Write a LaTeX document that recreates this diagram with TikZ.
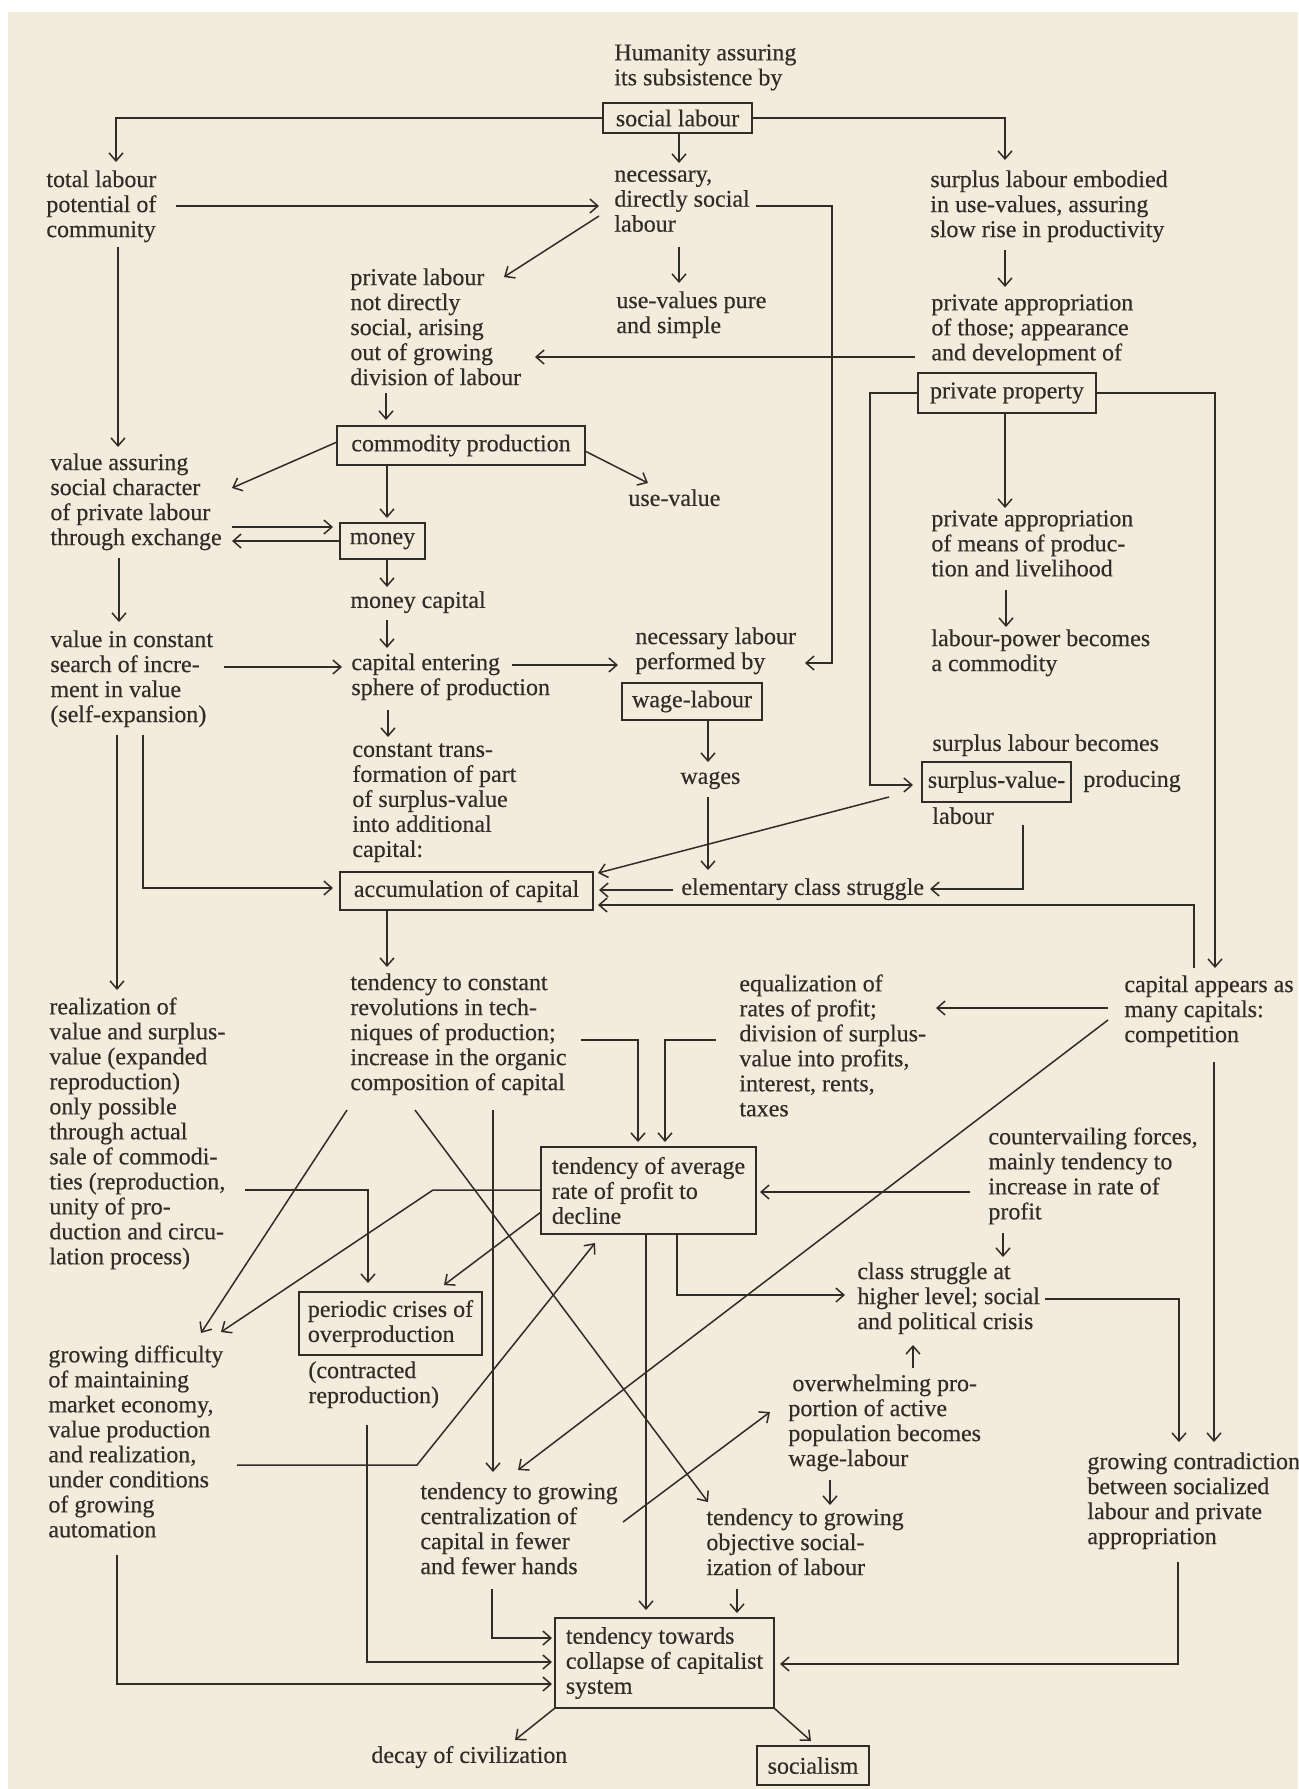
\documentclass[tikz,border=0pt]{standalone}
\usepackage{fontspec}
\setmainfont{Liberation Serif}
\newfontfamily\inkfont{Liberation Serif}[FakeBold=0.35]
\usetikzlibrary{arrows.meta}
\definecolor{ink}{RGB}{48,44,40}
\definecolor{paper}{RGB}{243,236,221}
\begin{document}
\begin{tikzpicture}[x=0.5pt,y=-0.5pt,
  t/.style={anchor=north west, inner sep=0pt, align=left, yshift=6pt, font=\inkfont\fontsize{12}{12.5}\selectfont, text=ink, execute at begin node=\strut},
  bx/.style={draw=ink, line width=0.95pt, inner sep=0pt, align=left, font=\inkfont\fontsize{12}{12.5}\selectfont, text=ink},
  ar/.style={draw=ink, line width=0.75pt, -{Straight Barb[length=4pt,width=7pt]}}]
\useasboundingbox (0,0) rectangle (1298,1789);
\fill[white] (0,0) rectangle (1298,1789);
\fill[paper] (8,12) rectangle (1298,1789);
% nodes
\node[t] (hum) at (614,56) {Humanity assuring\\its subsistence by};
\node[bx, minimum width=74.5pt, minimum height=15pt] (soc) at (677.5,118) {social labour};
\node[t] (total) at (46,182) {total labour\\potential of\\community};
\node[t] (nec) at (614,182) {necessary,\\directly social\\labour};
\node[t] (surp) at (930,182) {surplus labour embodied\\in use-values, assuring\\slow rise in productivity};
\node[t] (privlab) at (350,280) {private labour\\not directly\\social, arising\\out of growing\\division of labour};
\node[t] (usepure) at (616,303) {use-values pure\\and simple};
\node[t] (privapp) at (931,306) {private appropriation\\of those; appearance\\and development of};
\node[bx, minimum width=89pt, minimum height=20pt] (privprop) at (1007,393) {private property};
\node[bx, minimum width=124pt, minimum height=19.5pt] (comm) at (461,445.5) {commodity production};
\node[t] (valass) at (50,465) {value assuring\\social character\\of private labour\\through exchange};
\node[t] (usev) at (628,500) {use-value};
\node[bx, minimum width=42.5pt, minimum height=18pt] (money) at (382.5,541) {money};
\node[t] (privmeans) at (931,522) {private appropriation\\of means of produc-\\tion and livelihood};
\node[t] (moncap) at (350,602) {money capital};
\node[t] (labpow) at (931,641) {labour-power becomes\\a commodity};
\node[t] (valcon) at (50,642) {value in constant\\search of incre-\\ment in value\\(self-expansion)};
\node[t] (capent) at (351,665) {capital entering\\sphere of production};
\node[t] (neclab) at (635,639) {necessary labour\\performed by};
\node[bx, minimum width=70pt, minimum height=18.5pt] (wage) at (692,701.5) {wage-labour};
\node[t] (slb) at (932,745) {surplus labour becomes};
\node[bx, minimum width=74.5pt, minimum height=20pt] (sv) at (996.5,782) {surplus-value-};
\node[t] (producing) at (1083,781) {producing};
\node[t] (labr) at (932,818) {labour};
\node[t] (wages) at (680,778) {wages};
\node[t] (constr) at (352,755) {constant trans-\\formation of part\\of surplus-value\\into additional\\capital:};
\node[bx, minimum width=126.5pt, minimum height=19pt] (accum) at (466.5,891) {accumulation of capital};
\node[t] (elem) at (681,889) {elementary class struggle};
\node[t] (tconst) at (350,985) {tendency to constant\\revolutions in tech-\\niques of production;\\increase in the organic\\composition of capital};
\node[t] (realiz) at (49,1009) {realization of\\value and surplus-\\value (expanded\\reproduction)\\only possible\\through actual\\sale of commodi-\\ties (reproduction,\\unity of pro-\\duction and circu-\\lation process)};
\node[t] (equal) at (739,986) {equalization of\\rates of profit;\\division of surplus-\\value into profits,\\interest, rents,\\taxes};
\node[t] (capapp) at (1124,987) {capital appears as\\many capitals:\\competition};
\node[bx, minimum width=107.5pt, minimum height=43.5pt] (tavg) at (648.5,1190.5) {tendency of average\\rate of profit to\\decline};
\node[t] (counter) at (988,1139) {countervailing forces,\\mainly tendency to\\increase in rate of\\profit};
\node[t] (classh) at (857,1274) {class struggle at\\higher level; social\\and political crisis};
\node[bx, minimum width=91.5pt, minimum height=31.5pt] (crises) at (390.5,1323.5) {periodic crises of\\overproduction};
\node[t] (contr) at (308,1373) {(contracted\\reproduction)};
\node[t] (overw) at (788,1386) {\hspace{2pt}overwhelming pro-\\portion of active\\population becomes\\wage-labour};
\node[t] (growd) at (48,1357) {growing difficulty\\of maintaining\\market economy,\\value production\\and realization,\\under conditions\\of growing\\automation};
\node[t] (growc) at (1087,1464) {growing contradiction\\between socialized\\labour and private\\appropriation};
\node[t] (centr) at (420,1494) {tendency to growing\\centralization of\\capital in fewer\\and fewer hands};
\node[t] (objsoc) at (706,1520) {tendency to growing\\objective social-\\ization of labour};
\node[bx, minimum width=109.5pt, minimum height=45pt] (coll) at (664.5,1663) {tendency towards\\collapse of capitalist\\system};
\node[t] (decay) at (371,1757) {decay of civilization};
\node[bx, minimum width=56pt, minimum height=19.5pt] (socialism) at (813,1765.5) {socialism};
% connectors
\draw[ar] (soc.west) -| (116,162);
\draw[ar] (679,133) -- (679,163);
\draw[ar] (soc.east) -| (1005,160);
\draw[ar] (176,206) -- (599,206);
\draw[ar] (756,206) -| (832,663) -- (805,663);
\draw[ar] (599,216) -- (504,277);
\draw[ar] (679,247) -- (679,283);
\draw[ar] (1005,250) -- (1005,287);
\draw[ar] (915,357) -- (535,357);
\draw[ar] (386,393) -- (386,420);
\draw[ar] (118,247) -- (118,447);
\draw[ar] (337,442) -- (232,488);
\draw[ar] (585,451) -- (648,483);
\draw[ar] (387,465) -- (387,518);
\draw[ar] (232,527) -- (333,527);
\draw[ar] (money.west) -- (232,541);
\draw[ar] (387,559) -- (387,587);
\draw[ar] (387,620) -- (387,648);
\draw[ar] (119,558) -- (119,622);
\draw[ar] (224,667) -- (342,667);
\draw[ar] (512,665) -- (618,665);
\draw[ar] (388,710) -- (388,737);
\draw[ar] (privprop.west) -| (870,785) -- (913,785);
\draw[ar] (privprop.east) -| (1215,968);
\draw[ar] (1005,413) -- (1005,508);
\draw[ar] (1006,590) -- (1006,627);
\draw[ar] (708,720) -- (708,762);
\draw[ar] (708,797) -- (708,870);
\draw[ar] (889,797) -- (598,873);
\draw[ar] (1023,825) |- (930,889);
\draw[ar] (673,890) -- (599,890);
\draw[ar] (1194,968) |- (598,905);
\draw[ar] (143,735) |- (333,888);
\draw[ar] (117,735) -- (117,990);
\draw[ar] (387,910) -- (387,967);
\draw[ar] (581,1040) -| (638,1142);
\draw[ar] (716,1040) -| (665,1142);
\draw[ar] (1108,1008) -- (936,1008);
\draw[ar] (970,1192) -- (760,1192);
\draw[ar] (1003,1233) -- (1003,1257);
\draw[ar] (677,1234) |- (845,1295);
\draw[ar] (646,1234) -- (646,1610);
\draw[ar] (347,1110) -- (201,1333);
\draw[ar] (541,1190) -- (433,1190) -- (221,1332);
\draw[ar] (541,1212) -- (444,1285);
\draw[ar] (245,1190) -| (368,1283);
\draw[ar] (493,1110) -- (493,1472);
\draw[ar] (415,1110) -- (708,1502);
\draw[ar] (1108,1020) -- (518,1470);
\draw[ar] (237,1465) -- (417,1465) -- (595,1243);
\draw[ar] (623,1522) -- (770,1412);
\draw[ar] (913,1368) -- (913,1345);
\draw[ar] (830,1480) -- (830,1505);
\draw[ar] (737,1589) -- (737,1613);
\draw[ar] (1045,1299) -| (1179,1442);
\draw[ar] (1214,1062) -- (1214,1442);
\draw[ar] (1178,1562) |- (780,1664);
\draw[ar] (367,1425) |- (552,1662);
\draw[ar] (492,1589) |- (552,1638);
\draw[ar] (117,1555) |- (552,1684);
\draw[ar] (555,1708) -- (515,1740);
\draw[ar] (774,1708) -- (811,1741);
\end{tikzpicture}
\end{document}
